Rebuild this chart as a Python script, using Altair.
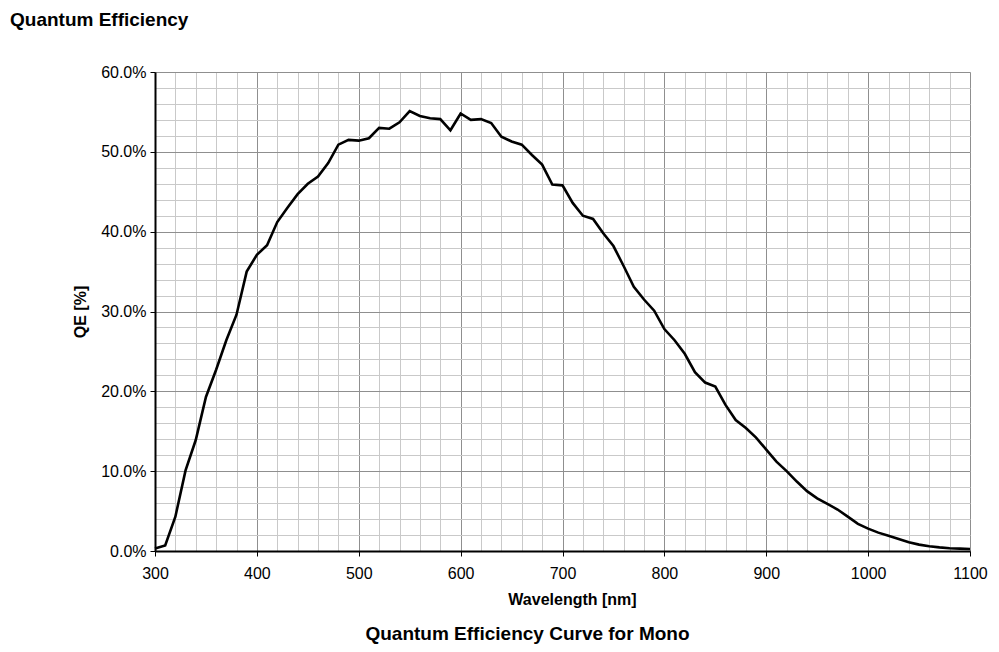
import altair as alt
import pandas as pd

wavelength = list(range(300, 1101, 10))
qe_percent = [
    0.3, 0.7, 4.3, 10.1, 13.9, 19.3, 22.7, 26.4, 29.6, 35.0,
    37.1, 38.3, 41.2, 43.0, 44.7, 46.0, 46.9, 48.6, 50.9, 51.5,
    51.4, 51.7, 53.0, 52.9, 53.7, 55.1, 54.5, 54.2, 54.1, 52.7,
    54.8, 54.0, 54.1, 53.6, 51.9, 51.3, 50.9, 49.6, 48.4, 45.9,
    45.8, 43.6, 42.0, 41.6, 39.8, 38.2, 35.7, 33.1, 31.5, 30.1,
    27.8, 26.4, 24.7, 22.4, 21.1, 20.6, 18.3, 16.4, 15.4, 14.2,
    12.7, 11.2, 10.0, 8.7, 7.5, 6.6, 5.9, 5.2, 4.3, 3.4,
    2.8, 2.3, 1.9, 1.5, 1.1, 0.8, 0.6, 0.45, 0.35, 0.3,
    0.25,
]
x_major = list(range(300, 1101, 100))
x_minor = list(range(300, 1101, 20))
y_major = [v / 100 for v in range(0, 61, 10)]
y_minor = [v / 100 for v in range(0, 61, 2)]

chart_title = ["Quantum Efficiency"]
bottom_title = ["Quantum Efficiency Curve for Mono"]

df = pd.DataFrame({"wl": wavelength, "qe": [v / 100 for v in qe_percent]})

FONT = "Liberation Sans"
W, H = 815, 479

xscale = alt.Scale(domain=[300, 1100], nice=False, zero=False)
yscale = alt.Scale(domain=[0, 0.6], nice=False)

base = alt.Chart(df)

minor = base.mark_line(strokeOpacity=0).encode(
    x=alt.X("wl:Q", scale=xscale,
            axis=alt.Axis(orient="bottom", values=x_minor, grid=True, gridColor="#c9c9c9",
                          gridWidth=1, labels=False, ticks=False, domain=False, title=None)),
    y=alt.Y("qe:Q", scale=yscale,
            axis=alt.Axis(orient="left", values=y_minor, grid=True, gridColor="#c9c9c9",
                          gridWidth=1, labels=False, ticks=False, domain=False, title=None)),
)

major = base.mark_line(color="black", strokeWidth=2.6).encode(
    x=alt.X("wl:Q", scale=xscale,
            axis=alt.Axis(orient="bottom", values=x_major, format="d", grid=True,
                          gridColor="#8f8f8f", gridWidth=1, domain=True, domainColor="black",
                          domainWidth=2, ticks=True, tickColor="black", tickSize=5, tickWidth=1,
                          labelFont=FONT, labelFontSize=16, labelColor="black",
                          labelPadding=9, labelFlush=False,
                          title="Wavelength [nm]", titleFont=FONT, titleFontSize=16,
                          titleFontWeight="bold", titleColor="black", titlePadding=10,
                          titleX=417)),
    y=alt.Y("qe:Q", scale=yscale,
            axis=alt.Axis(orient="left", values=y_major, format=".1%", grid=True,
                          gridColor="#8f8f8f", gridWidth=1, domain=True, domainColor="black",
                          domainWidth=2, ticks=True, tickColor="black", tickSize=5,
                          labelFont=FONT, labelFontSize=16, labelColor="black",
                          labelPadding=4, labelFlush=False,
                          title="QE [%]", titleFont=FONT, titleFontSize=16,
                          titleFontWeight="bold", titleColor="black", titlePadding=12)),
)

top_text = alt.Chart(pd.DataFrame({"t": chart_title})).mark_text(
    font=FONT, fontSize=19, fontWeight="bold", align="left", baseline="alphabetic", color="black"
).encode(x=alt.value(-145), y=alt.value(-46), text="t:N")

bottom_text = alt.Chart(pd.DataFrame({"t": bottom_title})).mark_text(
    font=FONT, fontSize=19, fontWeight="bold", align="center", baseline="alphabetic", color="black"
).encode(x=alt.value(372.5), y=alt.value(568), text="t:N")

chart = alt.layer(minor, major, top_text, bottom_text).resolve_axis(
    x="independent", y="independent"
).properties(
    width=W, height=H,
    autosize=alt.AutoSizeParams(type="none"),
    padding={"left": 147, "top": 64, "right": 21, "bottom": 93},
).configure_view(stroke=None).configure(background="white")

chart.save("out.html", embed_options={"renderer": "svg", "actions": False})
